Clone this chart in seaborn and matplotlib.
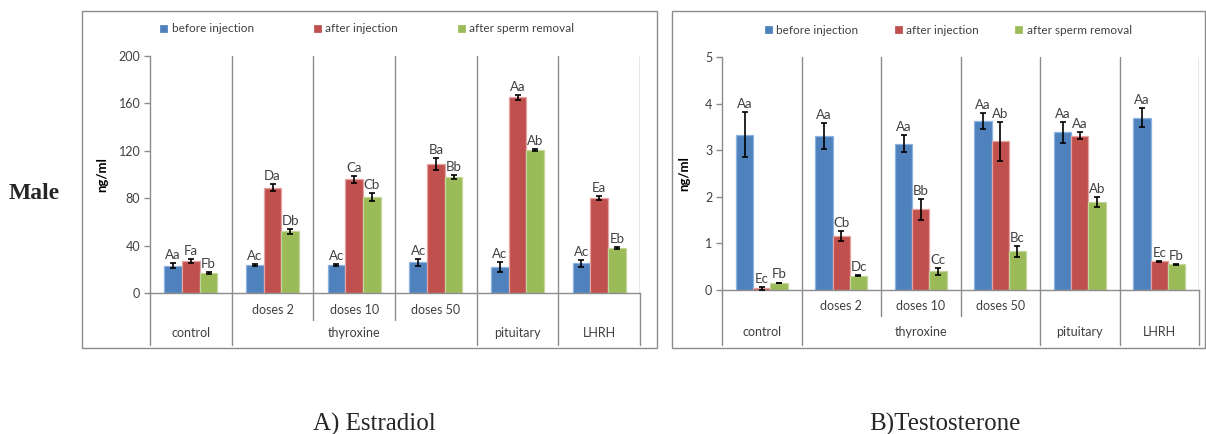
import numpy as np
import pandas as pd
import matplotlib.pyplot as plt
import matplotlib.transforms as mtransforms
from matplotlib.patches import Rectangle
import seaborn as sns

# --- data ---
groups = ["control", "doses 2", "doses 10", "doses 50", "pituitary", "LHRH"]
series = ["before injection", "after injection", "after sperm removal"]
outer_labels = ["control", "", "thyroxine", "", "pituitary", "LHRH"]
inner_labels = ["", "doses 2", "doses 10", "doses 50", "", ""]

# Estradiol (ng/ml)
e2_before = [23, 24, 24, 26, 22, 25]
e2_after = [27, 89, 96, 109, 165, 80]
e2_removal = [17, 52, 81, 98, 121, 38]
e2_before_err = [2, 0.8, 0.8, 3, 4, 3]
e2_after_err = [1.5, 3, 3, 5, 2, 1.5]
e2_removal_err = [1, 2, 3, 1.5, 0.8, 0.5]
e2_before_lbl = ["Aa", "Ac", "Ac", "Ac", "Ac", "Ac"]
e2_after_lbl = ["Fa", "Da", "Ca", "Ba", "Aa", "Ea"]
e2_removal_lbl = ["Fb", "Db", "Cb", "Bb", "Ab", "Eb"]

# Testosterone (ng/ml)
t_before = [3.33, 3.31, 3.14, 3.62, 3.38, 3.70]
t_after = [0.04, 1.16, 1.73, 3.19, 3.31, 0.62]
t_removal = [0.15, 0.31, 0.40, 0.83, 1.89, 0.55]
t_before_err = [0.48, 0.28, 0.18, 0.17, 0.23, 0.20]
t_after_err = [0.03, 0.10, 0.22, 0.42, 0.07, 0.01]
t_removal_err = [0.01, 0.01, 0.07, 0.12, 0.10, 0.01]
t_before_lbl = ["Aa", "Aa", "Aa", "Aa", "Aa", "Aa"]
t_after_lbl = ["Ec", "Cb", "Bb", "Ab", "Aa", "Ec"]
t_removal_lbl = ["Fb", "Dc", "Cc", "Bc", "Ab", "Fb"]

COLORS = ["#4F81BD", "#C0504D", "#9BBB59"]
EDGES = ["#8DB3E2", "#E6A3A1", "#C3D69B"]
GRID = "#8C8C8C"
TEXT = "#404040"

W, H = 1206, 434

sns.set_theme(style="white")
plt.rcParams["font.family"] = ["Lato", "DejaVu Sans"]

fig = plt.figure(figsize=(W / 100, H / 100), dpi=100)


def px_axes(x0, x1, ytop, ybot):
    return fig.add_axes([x0 / W, 1 - ybot / H, (x1 - x0) / W, (ybot - ytop) / H])


def draw_panel(ax, values, errors, letters, ymax, ystep, below, legend_xy, colspacing):
    df = pd.DataFrame({
        "group": np.tile(groups, len(series)),
        "series": np.repeat(series, len(groups)),
        "value": np.concatenate(values),
    })
    sns.barplot(data=df, x="group", y="value", hue="series", order=groups,
                hue_order=series, palette=COLORS, saturation=1, width=0.65,
                errorbar=None, linewidth=0.9, ax=ax, zorder=2)

    for cont, vals, errs, lbls, edge in zip(ax.containers, values, errors, letters, EDGES):
        xs = []
        for bar in cont:
            bar.set_edgecolor(edge)
            xs.append(bar.get_x() + bar.get_width() / 2)
        ax.errorbar(xs, vals, yerr=errs, fmt="none", ecolor="black",
                    elinewidth=1.2, capsize=2.5, capthick=1.2, zorder=3)
        for x, v, e, t in zip(xs, vals, errs, lbls):
            ax.annotate(t, (x, v + e), xytext=(0, 1.5), textcoords="offset points",
                        ha="center", va="bottom", fontsize=9.5, color=TEXT, zorder=4)

    ax.set_xlim(-0.5, len(groups) - 0.5)
    ax.set_ylim(0, ymax)
    ax.set_yticks(np.arange(0, ymax + ystep / 2, ystep))
    ax.set_xticks([])
    ax.set_xlabel("")
    ax.set_ylabel("ng/ml", fontsize=9.5, fontweight="bold", color="black")
    ax.tick_params(axis="y", left=True, direction="out", length=4, width=1,
                   color=GRID, labelsize=9, labelcolor=TEXT, pad=3)
    for side in ["top", "right"]:
        ax.spines[side].set_visible(False)
    for side in ["left", "bottom"]:
        ax.spines[side].set_color(GRID)
        ax.spines[side].set_linewidth(1)

    # category separators (full height) and multi-level axis below
    trans = mtransforms.blended_transform_factory(ax.transData, ax.transAxes)
    for k in range(1, len(groups) + 1):
        ax.axvline(k - 0.5, color=GRID, lw=1, zorder=1)
    full_cut, inner_cut, inner_y, outer_y = below
    for k in range(len(groups) + 1):
        xb = k - 0.5
        low = inner_cut if k in (2, 3) else full_cut
        ax.plot([xb, xb], [0, low], color=GRID, lw=1, transform=trans, clip_on=False)
    for i, t in enumerate(inner_labels):
        if t:
            ax.text(i, inner_y, t, transform=trans, ha="center", va="center",
                    fontsize=9, color=TEXT)
    for i, t in enumerate(outer_labels):
        if t:
            ax.text(i, outer_y, t, transform=trans, ha="center", va="center",
                    fontsize=9, color=TEXT)

    handles, labels = ax.get_legend_handles_labels()
    ax.legend(handles, labels, loc="center", bbox_to_anchor=legend_xy,
              bbox_transform=fig.transFigure, ncol=3, frameon=False,
              fontsize=8.5, handlelength=0.75, handleheight=0.75,
              handletextpad=0.3, columnspacing=colspacing, labelcolor=TEXT)


# panel frames
fig.patches.append(Rectangle((82 / W, 1 - 348 / H), (657 - 82) / W, (348 - 11) / H,
                             transform=fig.transFigure, fill=False, edgecolor=GRID, lw=1))
fig.patches.append(Rectangle((672 / W, 1 - 348 / H), (1205 - 672) / W, (348 - 11) / H,
                             transform=fig.transFigure, fill=False, edgecolor=GRID, lw=1))

ax1 = px_axes(150, 640, 56, 293)
draw_panel(ax1, [e2_before, e2_after, e2_removal],
           [e2_before_err, e2_after_err, e2_removal_err],
           [e2_before_lbl, e2_after_lbl, e2_removal_lbl],
           200, 40, (-0.219, -0.114, -0.072, -0.169),
           (367 / W, 1 - 29 / H), 5.0)
ax1.yaxis.set_label_coords(-0.086, 0.5)

ax2 = px_axes(722, 1199, 57, 290)
draw_panel(ax2, [t_before, t_after, t_removal],
           [t_before_err, t_after_err, t_removal_err],
           [t_before_lbl, t_after_lbl, t_removal_lbl],
           5, 1, (-0.236, -0.11, -0.069, -0.18),
           (948 / W, 1 - 30 / H), 3.0)
ax2.yaxis.set_label_coords(-0.067, 0.5)

serif = ["Liberation Serif", "DejaVu Serif"]
fig.text(34 / W, 1 - 194 / H, "Male", family=serif, fontweight="bold",
         fontsize=17, ha="center", va="center")
fig.text(374 / W, 1 - 424 / H, "A) Estradiol", family=serif, fontsize=18,
         ha="center", va="center")
fig.text(945 / W, 1 - 424 / H, "B)Testosterone", family=serif, fontsize=18,
         ha="center", va="center")

fig.savefig("out.png", dpi=100)
plt.close(fig)
